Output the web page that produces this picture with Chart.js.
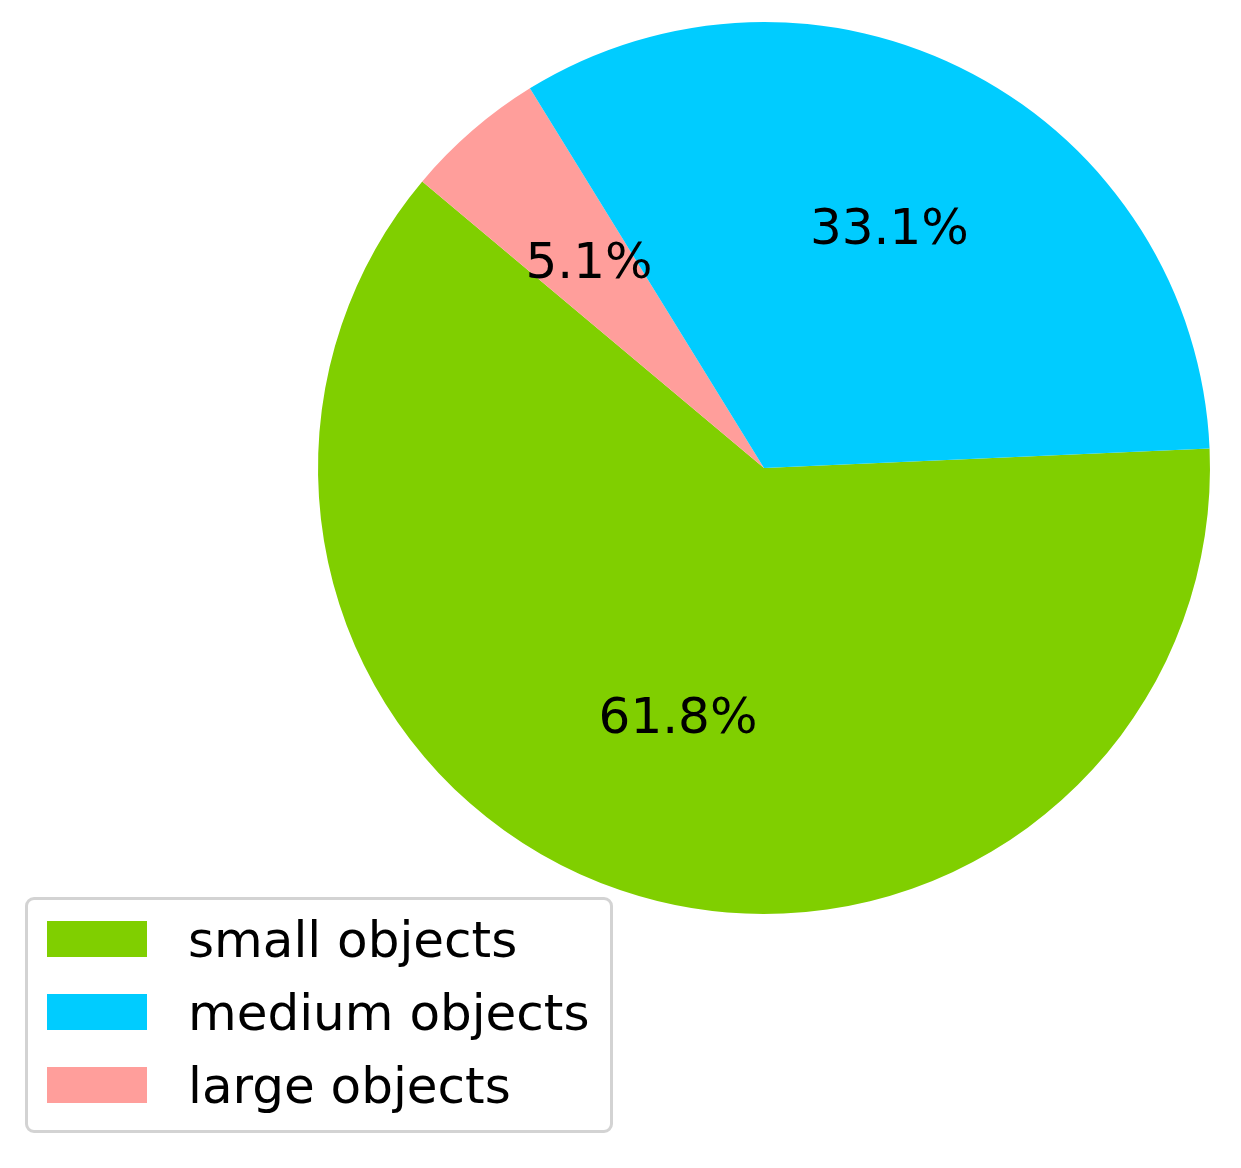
<!DOCTYPE html>
<html>
<head>
<meta charset="utf-8">
<script src="https://cdn.jsdelivr.net/npm/chart.js@4"></script>
<style>
    body { margin: 0; background: #ffffff; }
    #wrap { position: relative; width: 1241px; height: 1168px; }
    #chart-pie { position: absolute; left: 0; top: 0; }
    #legend {
        position: absolute; left: 25px; top: 897px; width: 582px; height: 230px;
        border: 3px solid #d3d3d3; border-radius: 9px; background: #fff;
        font-family: 'DejaVu Sans', sans-serif; font-size: 50px; color: #000;
    }
    .row { position: absolute; left: 0; height: 36px; }
    .patch { position: absolute; left: 19px; top: 0; width: 100px; height: 36px; }
    .txt { position: absolute; left: 160px; top: -6px; line-height: 50px; white-space: nowrap; }
</style>
</head>
<body>
<div id="wrap">
    <canvas id="chart-pie" width="1241" height="1168"></canvas>
    <div id="legend"></div>
</div>
<script>
// data
const categories = ['small objects', 'medium objects', 'large objects'];
const percents = [61.8, 33.1, 5.1];
const colors = ['#80cf00', '#00ccff', '#ff9e9b'];
// matplotlib draws counter-clockwise, chart.js clockwise -> reorder
const drawOrder = [0, 2, 1];

// Start legend
let legend = document.getElementById('legend');
categories.forEach(function (name, i) {
    let row = document.createElement('div');
    row.className = 'row';
    row.style.top = (21 + i * 73) + 'px';
    row.innerHTML = '<div class="patch" style="background:' + colors[i] + '"></div>' +
        '<div class="txt">' + name + '</div>';
    legend.appendChild(row);
});
// Akhir legend

// percent labels inside wedges, like autopct
const pctLabels = {
    id: 'pctLabels',
    afterDatasetsDraw(chart) {
        let ctx = chart.ctx;
        let meta = chart.getDatasetMeta(0);
        let values = chart.data.datasets[0].data;
        ctx.save();
        ctx.font = '50px "DejaVu Sans"';
        ctx.fillStyle = '#000';
        ctx.textAlign = 'center';
        ctx.textBaseline = 'middle';
        meta.data.forEach(function (arc, i) {
            let mid = (arc.startAngle + arc.endAngle) / 2;
            let r = arc.outerRadius * 0.6;
            ctx.fillText(values[i].toFixed(1) + '%', arc.x + r * Math.cos(mid), arc.y + r * Math.sin(mid) - 1);
        });
        ctx.restore();
    }
};

// Start chart-pie
let cp = document.getElementById('chart-pie').getContext('2d');
let chart_pie = new Chart(cp, {
    type: 'pie',
    data: {
        labels: drawOrder.map(i => categories[i]),
        datasets: [{
            data: drawOrder.map(i => percents[i]),
            backgroundColor: drawOrder.map(i => colors[i]),
            borderWidth: 0
        }]
    },
    options: {
        responsive: false,
        animation: false,
        rotation: 87.5,
        events: [],
        layout: {
            padding: { left: 318, right: 31, top: 22, bottom: 254 }
        },
        plugins: {
            legend: { display: false },
            tooltip: { enabled: false }
        }
    },
    plugins: [pctLabels]
});
// Akhir chart-pie
</script>
</body>
</html>
